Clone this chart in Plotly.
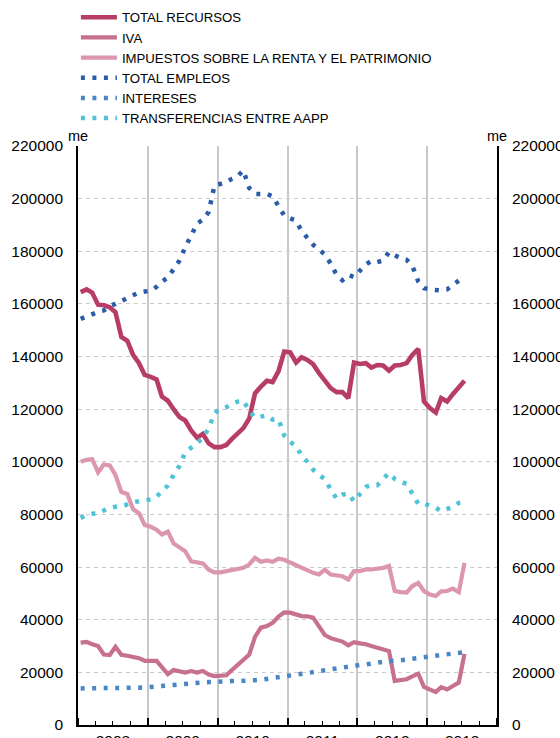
import pandas as pd
import plotly.graph_objects as go

# Monthly observations, January 2008 - July 2013 (millions of euros)
months = pd.date_range("2008-01-01", periods=67, freq="MS") + pd.Timedelta(days=14)

total_recursos = [
    164500, 165500, 164300, 159700, 159500, 158700, 156800, 147400, 146000, 140600, 137500, 133000,
    132300, 131300, 124800, 123200, 120000, 117000, 115700, 111900, 109200, 110600, 107000, 105600,
    105600, 106400, 108600, 110900, 112800, 116500, 126000, 128600, 130800, 130300, 134500, 141900,
    141600, 137700, 139700, 138700, 137100, 133700, 130900, 128000, 126500, 126500, 124200, 137700,
    137200, 137500, 135800, 136800, 136600, 134600, 136600, 136800, 137500, 140600, 142900, 122900,
    120400, 118700, 124200, 122900, 125700, 128000, 130800,
]
iva = [
    31300, 31600, 30700, 30000, 26800, 26600, 29700, 26700, 26300, 26000, 25400, 24400,
    24300, 24400, 22000, 19300, 20900, 20500, 19900, 20500, 19900, 20500, 19200, 18600,
    18700, 18900, 20800, 23000, 25000, 26800, 33500, 37000, 37600, 38800, 41200, 42800,
    42700, 42000, 41400, 41300, 40800, 37500, 34200, 33000, 32300, 31700, 30300, 31500,
    31000, 30700, 30000, 29400, 29000, 28100, 16800, 16900, 17400, 18500, 19500, 14500,
    13700, 12500, 14400, 13500, 14800, 16100, 27000,
]
impuestos_renta = [
    100000, 100800, 101000, 96000, 99000, 98600, 95000, 88500, 87800, 82000, 80500, 76000,
    75300, 74200, 72400, 73500, 69000, 67500, 66000, 62200, 61600, 61400, 59000, 58000,
    58000, 58500, 59000, 59300, 59700, 61000, 63500, 62000, 62500, 62000, 63200, 62800,
    61800, 60400, 59700, 58900, 57800, 57200, 59000, 57200, 56900, 56500, 55300, 58500,
    58500, 59100, 59100, 59300, 59700, 60400, 50900, 50500, 50300, 52800, 54000, 50900,
    49600, 49000, 50800, 50900, 51800, 50500, 61600,
]
total_empleos = [
    154300, 155300, 156300, 157000, 157500, 159200, 160000, 160900, 162200, 163300, 164300, 164700,
    165000, 166500, 168500, 170000, 173500, 176500, 181500, 186000, 190500, 192000, 195000, 205000,
    205500, 206200, 207500, 208500, 210700, 204000, 201800, 201800, 201800, 200900, 197500, 193500,
    192500, 191600, 187800, 185000, 182500, 180500, 178900, 175300, 171000, 169000, 171000, 170200,
    172800, 175000, 176300, 175900, 176500, 179700, 178500, 177300, 176800, 174500, 168500, 166000,
    165500, 165100, 165100, 165500, 167000, 169000, 170500,
]
intereses = [
    13900, 13900, 13900, 13800, 13800, 13800, 13800, 13900, 13900, 14000, 14200, 14300,
    14400, 14600, 14800, 15000, 15200, 15400, 15700, 15900, 16100, 16200, 16300, 16500,
    16600, 16600, 16700, 16700, 16700, 16800, 17000, 17200, 17500, 17700, 18000, 18300,
    18600, 19000, 19300, 19600, 20000, 20400, 20800, 21200, 21400, 21700, 22100, 22500,
    22800, 23000, 23200, 23700, 24000, 24300, 24400, 24500, 24800, 25200, 25500, 25800,
    25900, 26100, 26300, 26700, 27000, 27500, 27700,
]
transferencias = [
    78700, 79800, 80300, 80400, 81500, 82500, 82900, 83000, 83800, 84700, 85000, 85400,
    85700, 86800, 89000, 91000, 95000, 98500, 103500, 105500, 107500, 109000, 112800, 118500,
    120200, 120800, 121800, 122900, 123300, 119400, 116800, 117000, 117600, 116000, 116200, 110000,
    107500, 106000, 102500, 100000, 97000, 95000, 93500, 89500, 86000, 87500, 88000, 85000,
    88000, 90500, 91200, 91100, 93500, 95700, 93500, 92500, 91600, 88000, 84000, 84100,
    83300, 82500, 81300, 82000, 82800, 84400, 84800,
]

FONT = "Liberation Sans, Arial, Helvetica, sans-serif"
DOTS = "4px,7.5px"

series = [
    ("TOTAL RECURSOS", total_recursos, "#b73d66", 4.6, "solid"),
    ("IVA", iva, "#c8708f", 4.2, "solid"),
    ("IMPUESTOS SOBRE LA RENTA Y EL PATRIMONIO", impuestos_renta, "#dc97ae", 4.2, "solid"),
    ("TOTAL EMPLEOS", total_empleos, "#2a5caa", 4.5, DOTS),
    ("INTERESES", intereses, "#4a85c5", 4.5, DOTS),
    ("TRANSFERENCIAS ENTRE AAPP", transferencias, "#4ec3d8", 4.5, DOTS),
]

fig = go.Figure()
for name, values, color, width, dash in series:
    fig.add_trace(go.Scatter(
        x=months, y=values, name=name, mode="lines",
        line=dict(color=color, width=width, dash=dash),
    ))

yaxis_common = dict(
    range=[0, 220000], dtick=20000, tick0=0, tickformat="d",
    showline=True, linecolor="black", linewidth=1.6,
    ticks="", zeroline=False, fixedrange=True,
    tickfont=dict(family=FONT, size=15.5, color="black"),
    ticklabelstandoff=10,
)

fig.update_layout(
    width=560, height=738,
    margin=dict(l=78, r=63, t=146, b=13, pad=0),
    paper_bgcolor="white", plot_bgcolor="white",
    font=dict(family=FONT, color="black"),
    showlegend=True,
    legend=dict(
        xref="paper", yref="container",
        x=-0.005, y=0.997, xanchor="left", yanchor="top",
        font=dict(family=FONT, size=13.2, color="black"),
        bgcolor="rgba(0,0,0,0)", borderwidth=0,
        itemwidth=36, tracegroupgap=0,
    ),
    xaxis=dict(
        type="date", range=["2008-01-01", "2014-01-01"],
        tick0="2008-01-01", dtick="M12", tickformat="%Y", ticklabelmode="period",
        ticks="inside", ticklen=7, tickwidth=1.5, tickcolor="black",
        showline=True, linecolor="black", linewidth=2,
        showgrid=True, gridcolor="#c8c8c8", gridwidth=1.5,
        minor=dict(dtick="M3", ticks="inside", ticklen=4, tickwidth=1.2,
                   tickcolor="black", showgrid=False),
        tickfont=dict(family=FONT, size=15.5, color="black"),
        automargin=False, fixedrange=True,
    ),
    yaxis=dict(
        **yaxis_common,
        showgrid=True, gridcolor="#cccccc", gridwidth=1.2, griddash="4px,4px",
        automargin=False,
    ),
    yaxis2=dict(
        **yaxis_common,
        overlaying="y", side="right", showgrid=False, automargin=False,
    ),
)

# Right-hand scale carries the same values as the left one
fig.add_trace(go.Scatter(
    x=months, y=total_empleos, yaxis="y2", mode="lines",
    line=dict(width=0, color="rgba(0,0,0,0)"), showlegend=False, hoverinfo="skip",
))

for xpos in (0, 1):
    fig.add_annotation(
        x=xpos, y=1, xref="paper", yref="paper", text="me", showarrow=False,
        xanchor="center", yanchor="bottom", yshift=0,
        font=dict(family=FONT, size=14.5, color="black"),
    )

fig.write_html("out.html")
